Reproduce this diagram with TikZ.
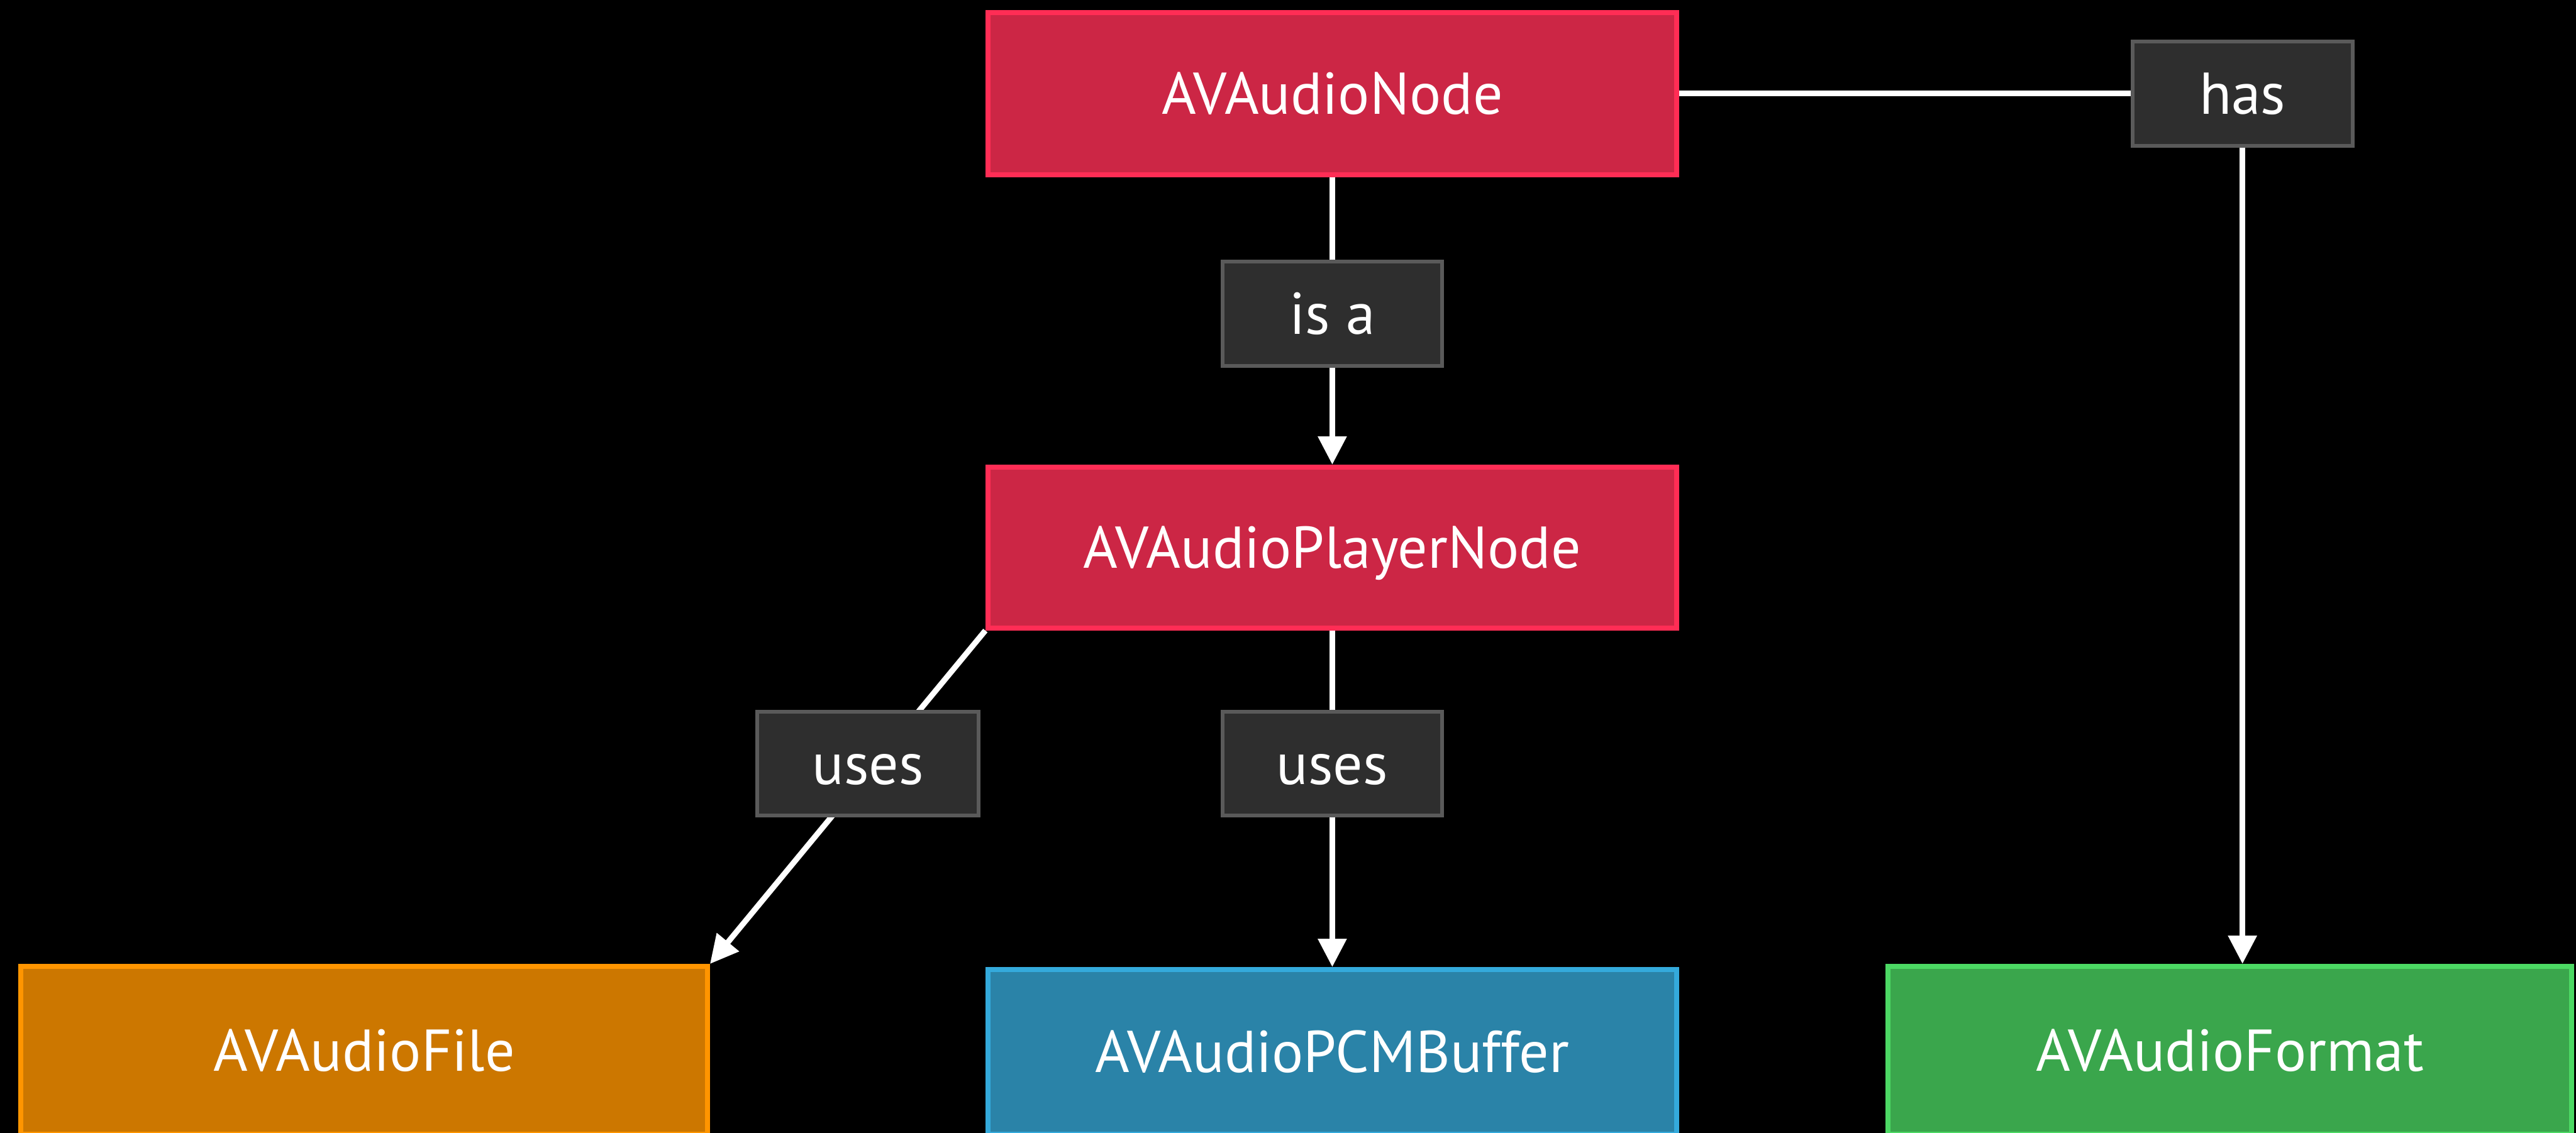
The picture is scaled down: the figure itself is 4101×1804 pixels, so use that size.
\documentclass[tikz,border=0pt]{standalone}
\usepackage{fontspec}
\setmainfont{PT Sans}
\usetikzlibrary{arrows.meta}
\pgfdeclarelayer{bg}
\pgfdeclarelayer{lines}
\pgfsetlayers{bg,lines,main}
\definecolor{redfill}{HTML}{CC2645}
\definecolor{redline}{HTML}{FF2D55}
\definecolor{orgfill}{HTML}{CC7700}
\definecolor{orgline}{HTML}{FF9500}
\definecolor{bluefill}{HTML}{2A83A8}
\definecolor{blueline}{HTML}{34AADC}
\definecolor{grnfill}{HTML}{3AA64C}
\definecolor{grnline}{HTML}{4CD964}
\definecolor{lblfill}{HTML}{2E2E2E}
\definecolor{lblline}{HTML}{5A5A5A}
\tikzset{
  txt/.style={text=white,font=\fontsize{26.7}{32}\selectfont,text height=18.7pt,text depth=0pt,inner sep=0pt},
  bigbox/.style={txt,draw,line width=0.08cm,rectangle},
  redbox/.style={bigbox,fill=redfill,draw=redline},
  orgbox/.style={bigbox,fill=orgfill,draw=orgline},
  bluebox/.style={bigbox,fill=bluefill,draw=blueline},
  grnbox/.style={bigbox,fill=grnfill,draw=grnline},
  lbl/.style={txt,rectangle,fill=lblfill,draw=lblline,line width=0.06cm,minimum width=3.50cm,minimum height=1.66cm},
  conn/.style={draw=white,line width=0.09cm},
  arr/.style={conn,-{Triangle[length=0.45cm,width=0.44cm]}}
}
\begin{document}
\begin{tikzpicture}[x=0.01cm,y=-0.01cm]
\begin{pgfonlayer}{bg}
\fill[black] (0,0) rectangle (4101,1804);
\end{pgfonlayer}
\useasboundingbox (0,0) rectangle (4101,1804);
\clip (0,0) rectangle (4101,1804);

\node[redbox,minimum width=10.96cm,minimum height=2.58cm] (avnode) at (2121,149) {AVAudioNode};
\node[redbox,minimum width=10.96cm,minimum height=2.56cm] (player) at (2121,872) {AVAudioPlayerNode};
\node[orgbox,minimum width=10.93cm,minimum height=2.67cm] (file) at (579.5,1672.5) {AVAudioFile};
\node[bluebox,minimum width=10.96cm,minimum height=2.62cm] (buffer) at (2121,1675) {AVAudioPCMBuffer};
\node[grnbox,minimum width=10.88cm,minimum height=2.67cm] (format) at (3550,1672.5) {AVAudioFormat};

\node[lbl] (isa) at (2121,499.5) {is a};
\node[lbl,minimum width=3.52cm] (uses1) at (1382,1216) {uses};
\node[lbl] (uses2) at (2121,1216) {uses};
\node[lbl] (has) at (3570,149) {has};

\begin{pgfonlayer}{lines}
\draw[conn] (avnode.south) -- (isa.north);
\draw[arr] (isa.south) -- (player.north);
\draw[arr] (player.south west) -- (file.north east);
\draw[conn] (player.south) -- (uses2.north);
\draw[arr] (uses2.south) -- (buffer.north);
\draw[conn] (avnode.east) -- (has.west);
\draw[arr] (has.south) -- (has.south |- format.north);
\end{pgfonlayer}
\end{tikzpicture}
\end{document}
